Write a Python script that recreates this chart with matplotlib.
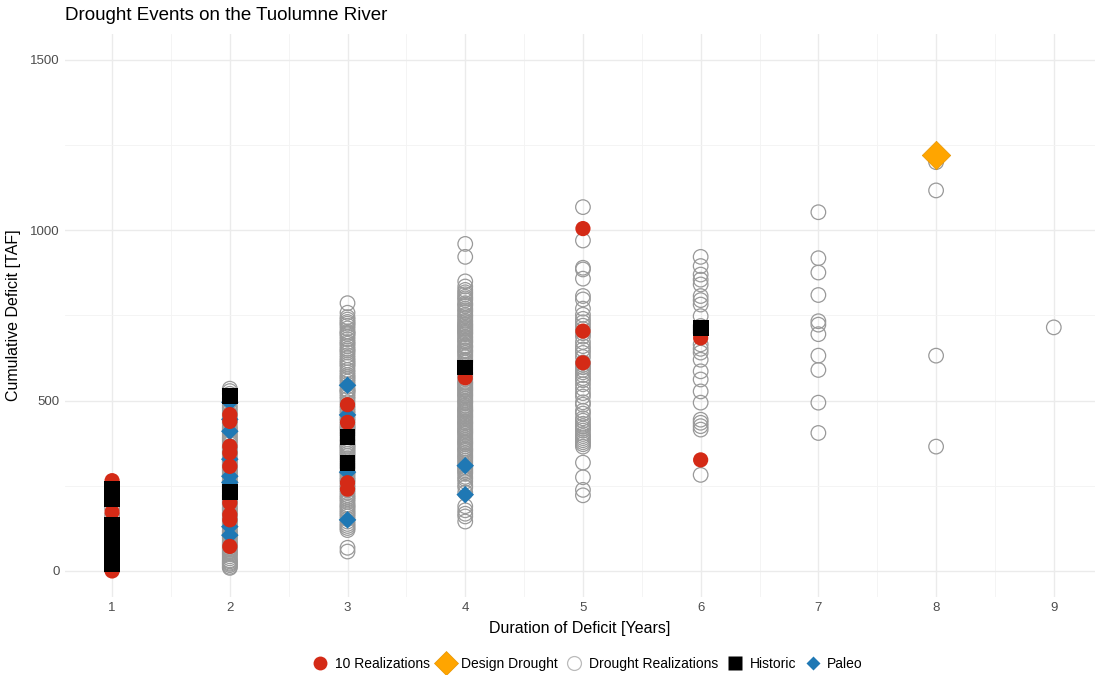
import matplotlib
matplotlib.use("Agg")
import matplotlib.pyplot as plt
from matplotlib.lines import Line2D

plt.rcParams['font.family'] = ['Liberation Sans', 'DejaVu Sans']

# ---- data ----
d1_def = [5, 18, 33, 50, 68, 87, 104, 121, 140, 163, 185, 207, 228, 252]
d2_def = [9, 17, 24, 31, 43, 49, 58, 63, 72, 80, 84, 96, 101, 110, 118, 126, 131, 141, 147, 156,
          163, 171, 178, 186, 194, 199, 208, 214, 223, 231, 238, 246, 251, 262, 267, 274, 283, 289,
          298, 304, 313, 319, 328, 336, 343, 351, 358, 366, 374, 381, 392, 399, 412, 423, 434, 449,
          462, 478, 497, 520, 12, 21, 28, 37, 53, 67, 76, 89, 105, 114, 137, 152, 168, 182, 203,
          219, 242, 257, 279, 294, 309, 323, 347, 362, 387, 405, 417, 441, 456, 470, 486, 505,
          528, 535]
d3_def = [57, 68, 120, 132, 145, 160, 172, 185, 195, 210, 222, 230, 245, 262, 275, 283, 300, 312,
          325, 338, 350, 362, 371, 380, 402, 415, 425, 447, 470, 478, 495, 505, 520, 532, 548, 556,
          563, 575, 590, 600, 612, 625, 633, 641, 652, 660, 672, 680, 688, 695, 703, 712, 720, 731,
          745, 758, 530, 786, 126, 138, 152, 166, 178, 190, 203, 216, 238, 252, 268, 289, 306, 318,
          331, 344, 356, 367, 386, 395, 408, 420, 432, 441, 455, 463, 485, 512, 526, 541, 569, 583,
          606, 618, 647, 667, 699, 726, 738]
d4_def = [145, 160, 178, 190, 230, 245, 262, 270, 285, 295, 305, 318, 330, 340, 352, 360, 372, 380,
          390, 402, 410, 418, 428, 440, 450, 458, 468, 475, 485, 492, 500, 512, 520, 530, 538, 548,
          555, 572, 582, 590, 605, 612, 620, 628, 640, 648, 655, 662, 670, 678, 688, 695, 702, 710,
          718, 725, 735, 742, 752, 760, 770, 778, 786, 795, 805, 812, 825, 835, 850, 922, 960, 433,
          168, 252, 276, 290, 300, 311, 324, 335, 346, 356, 366, 376, 385, 396, 406, 414, 423, 436,
          445, 454, 463, 471, 480, 496, 506, 516, 525, 534, 543, 552, 563, 578, 597, 616, 634, 645,
          659, 674, 684, 698, 706, 714, 722, 731, 748, 765, 782, 800, 818]
d5_def = [222, 238, 275, 318, 365, 378, 390, 402, 412, 425, 432, 448, 462, 470, 488, 495, 512, 522,
          535, 548, 560, 575, 590, 598, 612, 628, 640, 650, 660, 672, 688, 698, 710, 720, 730, 740,
          752, 770, 797, 807, 858, 885, 890, 970, 1068, 372, 384, 396, 418, 441, 566, 583, 605]
d6_def = [282, 415, 425, 435, 444, 494, 527, 562, 586, 620, 641, 652, 665, 700, 710, 719, 748, 782,
          795, 807, 841, 855, 870, 895, 922]
d7_def = [1053, 918, 876, 810, 733, 723, 695, 632, 590, 494, 405]
d8_def = [1200, 1117, 632, 365, 1220]
d9_def = [715]

ten_dur = [1, 1, 1, 2, 2, 2, 2, 2, 2, 2, 2, 2, 3, 3, 3, 3, 4, 5, 5, 5, 6, 6]
ten_def = [0, 173, 265, 459, 439, 366, 347, 307, 200, 165, 150, 72, 488, 436, 259, 240, 567,
           1005, 704, 611, 684, 326]

hist_dur = [1, 1, 1, 1, 1, 1, 1, 1, 1, 1, 2, 2, 3, 3, 4, 6]
hist_def = [20, 38, 57, 77, 96, 115, 135, 210, 228, 240, 513, 232, 393, 317, 597, 713]

paleo_dur = [2, 2, 2, 2, 2, 2, 2, 2, 3, 3, 3, 3, 4, 4]
paleo_def = [495, 445, 410, 328, 278, 260, 130, 105, 545, 458, 290, 150, 309, 224]

design_dur = [8]
design_def = [1220]

x_ticks = [1, 2, 3, 4, 5, 6, 7, 8, 9]
y_ticks = [0, 500, 1000, 1500]

real_groups = [d1_def, d2_def, d3_def, d4_def, d5_def, d6_def, d7_def, d8_def, d9_def]
real_dur, real_def = [], []
for dur, vals in zip(x_ticks, real_groups):
    real_dur += [dur] * len(vals)
    real_def += vals

# ---- figure ----
W, H = 1095, 675
fig = plt.figure(figsize=(W/100, H/100), dpi=100)
ax = fig.add_axes([65/W, 1 - 596.5/H, (1095-65)/W, (596.5-34.4)/H])

ax.set_xlim(0.6, 9.35)
ax.set_ylim(-75, 1575)

ax.scatter(real_dur, real_def, s=110, facecolors='none', edgecolors='#999999',
           linewidths=0.9, zorder=2)
ax.scatter(paleo_dur, paleo_def, s=80, marker='D', color='#1F78B4', edgecolors='none', zorder=3)
ax.scatter(ten_dur, ten_def, s=120, marker='o', color='#D42A16', edgecolors='none', zorder=4)
ax.scatter(hist_dur, hist_def, s=130, marker='s', color='black', edgecolors='none', zorder=5)
ax.scatter(design_dur, design_def, s=210, marker='D', color='#FFA500',
           edgecolors='#E69500', linewidths=0.5, zorder=6)

ax.set_xticks(x_ticks)
ax.set_xticks([1.5, 2.5, 3.5, 4.5, 5.5, 6.5, 7.5, 8.5], minor=True)
ax.set_yticks(y_ticks)
ax.set_yticks([250, 750, 1250], minor=True)
ax.grid(which='major', color='#EBEBEB', linewidth=1.0)
ax.grid(which='minor', color='#F3F3F3', linewidth=0.6)
ax.set_axisbelow(True)
for sp in ax.spines.values():
    sp.set_visible(False)
ax.tick_params(which='both', length=0, labelsize=9.5, labelcolor='#4D4D4D', pad=4)

ax.set_xlabel('Duration of Deficit [Years]', fontsize=11.5, color='black', labelpad=5)
ax.set_ylabel('Cumulative Deficit [TAF]', fontsize=11.5, color='black', labelpad=6)

fig.text(65/W, 1 - 16/H, 'Drought Events on the Tuolumne River', fontsize=13.5,
         ha='left', va='center', color='black')

handles = [
    Line2D([], [], marker='o', linestyle='none', markersize=10, color='#D42A16',
           markeredgecolor='none'),
    Line2D([], [], marker='D', linestyle='none', markersize=12, color='#FFA500',
           markeredgecolor='#E69500', markeredgewidth=0.5),
    Line2D([], [], marker='o', linestyle='none', markersize=10, markerfacecolor='none',
           markeredgecolor='#BBBBBB', markeredgewidth=0.9),
    Line2D([], [], marker='s', linestyle='none', markersize=10, color='black',
           markeredgecolor='none'),
    Line2D([], [], marker='D', linestyle='none', markersize=7, color='#1F78B4',
           markeredgecolor='none'),
]
labels = ['10 Realizations', 'Design Drought', 'Drought Realizations', 'Historic', 'Paleo']
fig.legend(handles, labels, loc='center', bbox_to_anchor=(588/W, 1 - 664/H), ncol=5,
           frameon=False, fontsize=10, handlelength=1.0, handletextpad=0.55,
           columnspacing=0.7, borderaxespad=0)

fig.savefig('out.png', dpi=100)
